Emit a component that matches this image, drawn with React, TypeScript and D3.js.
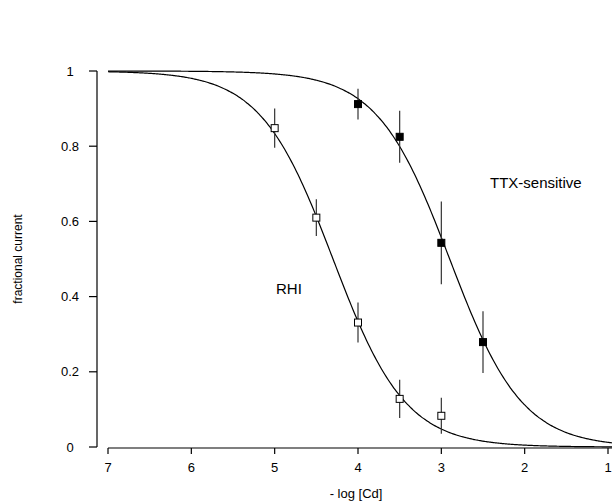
import React from "react";
import * as d3 from "d3";

const xTicks = [7, 6, 5, 4, 3, 2, 1];
const yTicks = [0, 0.2, 0.4, 0.6, 0.8, 1];
const yTickLabels = ["0", "0.2", "0.4", "0.6", "0.8", "1"];

// RHI (open squares)
const rhiX = [5, 4.5, 4, 3.5, 3];
const rhiY = [0.848, 0.61, 0.331, 0.128, 0.083];
const rhiErr = [0.052, 0.049, 0.053, 0.051, 0.048];

// TTX-sensitive (filled squares)
const ttxX = [4, 3.5, 3, 2.5];
const ttxY = [0.912, 0.825, 0.543, 0.279];
const ttxErr = [0.041, 0.069, 0.11, 0.082];

// Fitted Hill curves: pIC50 and Hill coefficient
const rhiFit = { pIC50: 4.3, n: 1.0 };
const ttxFit = { pIC50: 2.9, n: 1.0 };

const W = 612;
const H = 502;

export default function App() {
  const x = d3.scaleLinear().domain([7, 1]).range([108, 608]);
  const y = d3.scaleLinear().domain([0, 1]).range([447, 71]);

  const hill = (fit: { pIC50: number; n: number }) => (p: number) =>
    1 / (1 + Math.pow(10, fit.n * (fit.pIC50 - p)));

  const ps = d3.range(7, 0.9, -0.02);
  const line = d3
    .line<number>()
    .x((p) => x(p))
    .y((p) => y(0));

  const curvePath = (fit: { pIC50: number; n: number }) => {
    const f = hill(fit);
    return d3
      .line<number>()
      .x((p) => x(p))
      .y((p) => y(f(p)))
      .curve(d3.curveBasis)(ps) as string;
  };
  void line;

  const font = "'Liberation Sans', Arial, Helvetica, sans-serif";
  const ms = 7;

  return (
    <svg
      width={W}
      height={H}
      style={{ position: "absolute", left: 0, top: 0, background: "#fff" }}
      fontFamily={font}
    >
      <rect x={0} y={0} width={W} height={H} fill="#fff" />
      {/* Y axis */}
      <line x1={97} x2={97} y1={y(1)} y2={y(0)} stroke="#000" strokeWidth={1.2} />
      {yTicks.map((t, i) => (
        <g key={"yt" + i}>
          <line x1={89} x2={97} y1={y(t)} y2={y(t)} stroke="#000" strokeWidth={1.2} />
          <text x={70} y={y(t) + 4.5} fontSize={13} textAnchor="middle" fill="#000">
            {yTickLabels[i]}
          </text>
        </g>
      ))}
      <text
        transform={`translate(22,${259}) rotate(-90)`}
        fontSize={12}
        textAnchor="middle"
        fill="#000"
      >
        fractional current
      </text>

      {/* X axis */}
      <line x1={x(7)} x2={W} y1={448} y2={448} stroke="#000" strokeWidth={1.2} />
      {xTicks.map((t) => (
        <g key={"xt" + t}>
          <line x1={x(t)} x2={x(t)} y1={448} y2={454} stroke="#000" strokeWidth={1.2} />
          <text x={x(t)} y={472} fontSize={13} textAnchor="middle" fill="#000">
            {t}
          </text>
        </g>
      ))}
      <text x={356} y={498} fontSize={13} textAnchor="middle" fill="#000">
        - log [Cd]
      </text>

      {/* curves */}
      <path d={curvePath(rhiFit)} fill="none" stroke="#000" strokeWidth={1.2} />
      <path d={curvePath(ttxFit)} fill="none" stroke="#000" strokeWidth={1.2} />

      {/* RHI error bars and markers */}
      {rhiX.map((p, i) => (
        <g key={"r" + i}>
          <line
            x1={x(p)}
            x2={x(p)}
            y1={y(rhiY[i] + rhiErr[i])}
            y2={y(rhiY[i] - rhiErr[i])}
            stroke="#333"
            strokeWidth={1.2}
          />
          <rect
            x={x(p) - ms / 2}
            y={y(rhiY[i]) - ms / 2}
            width={ms}
            height={ms}
            fill="#fff"
            stroke="#000"
            strokeWidth={1}
          />
        </g>
      ))}
      {/* TTX error bars and markers */}
      {ttxX.map((p, i) => (
        <g key={"t" + i}>
          <line
            x1={x(p)}
            x2={x(p)}
            y1={y(ttxY[i] + ttxErr[i])}
            y2={y(ttxY[i] - ttxErr[i])}
            stroke="#333"
            strokeWidth={1.2}
          />
          <rect
            x={x(p) - ms / 2}
            y={y(ttxY[i]) - ms / 2}
            width={ms}
            height={ms}
            fill="#000"
            stroke="#000"
            strokeWidth={1}
          />
        </g>
      ))}

      <text x={490} y={188} fontSize={15} fill="#000">
        TTX-sensitive
      </text>
      <text x={276} y={294} fontSize={15} fill="#000">
        RHI
      </text>
    </svg>
  );
}
